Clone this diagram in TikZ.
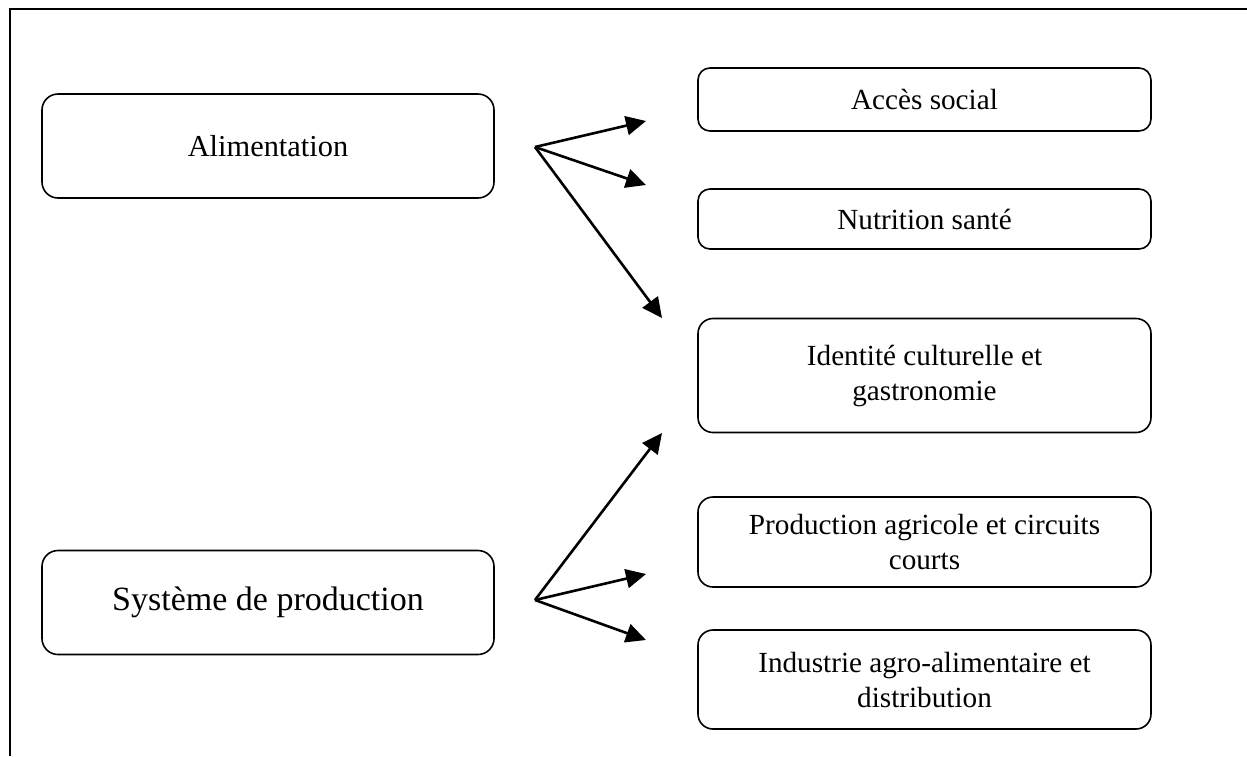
\documentclass[tikz,border=0pt]{standalone}
\usepackage{fontspec}
\setmainfont{Liberation Serif}
\usetikzlibrary{arrows.meta}
\tikzset{
  leftbox/.style={draw, line width=0.8pt, rounded corners=8pt, minimum width=226pt, minimum height=52pt, inner sep=0pt, align=center, font=\fontsize{15.2}{18}\selectfont},
  rightbox/.style={draw, line width=0.8pt, rounded corners=6pt, minimum width=226.5pt, inner sep=0pt, align=center, font=\fontsize{14.6}{17.5}\selectfont},
  arr/.style={line width=1.3pt, -{Triangle[length=10pt,width=9.5pt]}},
}
\begin{document}
\begin{tikzpicture}[x=0.5pt,y=-0.5pt]
\useasboundingbox (0,0) rectangle (1247,756);
\draw[line width=1.1pt] (10,756) -- (10,9) -- (1247,9);
% left boxes
\node[leftbox] (alim) at (268,146) {Alimentation};
\node[leftbox, font=\fontsize{17}{20}\selectfont] (sys) at (268,602.5) {Système de production};
% right boxes
\node[rightbox, minimum height=31.5pt] (acces) at (924.5,99.5) {Accès social};
\node[rightbox, minimum height=30pt] (nutri) at (924.5,219) {Nutrition santé};
\node[rightbox, minimum height=57pt, rounded corners=7.5pt] (ident) at (924.5,375.5) {Identité culturelle et\\gastronomie};
\node[rightbox, minimum height=45pt, rounded corners=7.5pt] (prod) at (924.5,542) {Production agricole et circuits\\courts};
\node[rightbox, minimum height=49.5pt, rounded corners=7.5pt] (indus) at (924.5,679.5) {Industrie agro-alimentaire et\\distribution};
% arrows
\coordinate (a0) at (535,147);
\coordinate (a1) at (646,121);
\coordinate (a2) at (646,185);
\coordinate (a3) at (662,318);
\coordinate (s0) at (535,600);
\coordinate (s1) at (662,433);
\coordinate (s2) at (646,574);
\coordinate (s3) at (646,640);
\draw[arr] (a0) -- (a1);
\draw[arr] (a0) -- (a2);
\draw[arr] (a0) -- (a3);
\draw[arr] (s0) -- (s1);
\draw[arr] (s0) -- (s2);
\draw[arr] (s0) -- (s3);
\end{tikzpicture}
\end{document}
